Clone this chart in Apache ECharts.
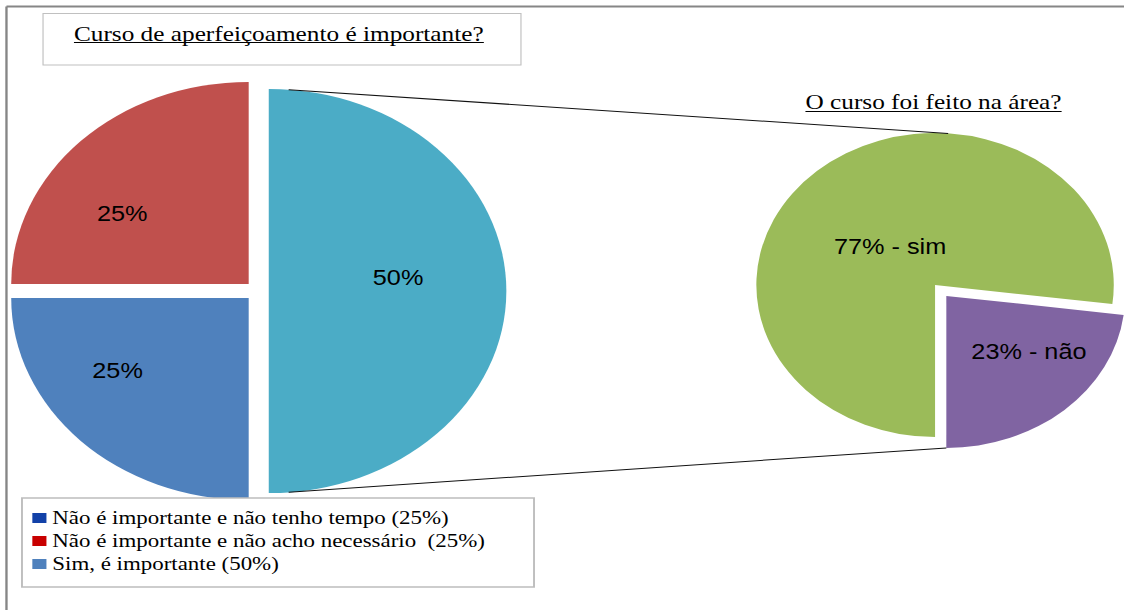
<!DOCTYPE html>
<html>
<head>
<meta charset="utf-8">
<script src="https://cdn.jsdelivr.net/npm/echarts@6/dist/echarts.min.js"></script>
<style>
  html, body { margin: 0; padding: 0; background: #fff; overflow: hidden; width: 1124px; height: 610px; }
  /* the drawing is laid out on a narrower canvas and widened to the page */
  #chart { width: 980px; height: 620px; transform: scaleX(1.175732); transform-origin: 0 0; }
</style>
</head>
<body>
<div id="chart"></div>
<script>
// Primary question: is a training course important?
const answerNames = ['Sim, é importante', 'Não é importante e não tenho tempo', 'Não é importante e não acho necessário'];
const answerValues = [50, 25, 25];
const answerColors = ['#4bacc6', '#4f81bd', '#c0504d'];

// Legend order and swatch colours
const legendNames = ['Não é importante e não tenho tempo', 'Não é importante e não acho necessário', 'Sim, é importante'];
const legendColors = ['#1241a8', '#c80000', '#4f81bd'];

// Breakdown of the "Sim" answers: was the course taken in the field?
const areaNames = ['sim', 'não'];
const areaValues = [77, 23];
const areaColors = ['#9bbb59', '#8064a2'];

const mainTitle = 'Curso de aperfeiçoamento é importante?';
const subTitle = 'O curso foi feito na área?';

// geometry of the two pies (px, in the unstretched layout)
const LEFT = { cx: 218.6, cy: 291, r: 202, off: 10 };
const RIGHT = { cx: 795.3, cy: 285, r: 152, off: 14.5 };

const SERIF = 'Liberation Serif';
const SANS = 'Liberation Sans';

// label nudges, per slice
const leftLabelShift = [[6, -13], [-38, -1], [-34, 3]];
const rightLabelShift = [[14, 21], [18, -3]];

function textWidth(str, font) {
  const c = document.createElement('canvas').getContext('2d');
  c.font = font;
  return c.measureText(str).width;
}

// series lines joining the split slice to the secondary pie
const deg = Math.PI / 180;
const leftTop = [LEFT.cx + LEFT.off + LEFT.r * Math.sin(4.8 * deg), LEFT.cy - LEFT.r * Math.cos(4.8 * deg)];
const leftBottom = [leftTop[0], LEFT.cy + LEFT.r * Math.cos(4.8 * deg)];
const rightTop = [RIGHT.cx + RIGHT.r * Math.sin(4.2 * deg), RIGHT.cy - RIGHT.r * Math.cos(4.2 * deg)];
const areaTotal = areaValues.reduce((a, b) => a + b, 0);
const notMid = (270 - 360 * areaValues[0] / areaTotal - 180 * areaValues[1] / areaTotal) * deg;
const notCenter = [RIGHT.cx + RIGHT.off * Math.cos(notMid), RIGHT.cy - RIGHT.off * Math.sin(notMid)];
const rightBottom = [notCenter[0], notCenter[1] + RIGHT.r];

const titleFont = '21.5px "Liberation Serif"';
const t1x = 62.9, t1y = 33.5;
const t1w = textWidth(mainTitle, titleFont);
const t2x = 794, t2y = 102;
const t2w = textWidth(subTitle, titleFont);

const chart = echarts.init(document.getElementById('chart'), null, { renderer: 'svg' });

chart.setOption({
  animation: false,
  backgroundColor: '#fff',
  legend: {
    orient: 'vertical',
    left: 27.5,
    top: 507,
    padding: 0,
    itemWidth: 12,
    itemHeight: 10,
    itemGap: 1,
    selectedMode: false,
    textStyle: { fontFamily: SERIF, fontSize: 19.5, color: '#000', lineHeight: 22 },
    formatter: name => {
      const v = answerValues[answerNames.indexOf(name)];
      return name + (name === legendNames[1] ? '  ' : ' ') + '(' + v + '%)';
    },
    data: legendNames.map((n, i) => ({ name: n, icon: 'rect', itemStyle: { color: legendColors[i] } }))
  },
  graphic: [
    // outer frame: only its top and left edges fall inside the page
    { type: 'line', z: 1, silent: true,
      shape: { x1: 5.5, y1: 6.5, x2: 980, y2: 6.5 },
      style: { stroke: '#868686', lineWidth: 2 } },
    { type: 'line', z: 1, silent: true,
      shape: { x1: 5.5, y1: 6.5, x2: 5.5, y2: 620 },
      style: { stroke: '#868686', lineWidth: 2 } },
    { type: 'rect', z: 1, silent: true,
      shape: { x: 36.6, y: 13.5, width: 406.5, height: 51.5 },
      style: { fill: 'none', stroke: '#c0c0c0', lineWidth: 1 } },
    { type: 'text', z: 5, silent: true,
      style: { text: mainTitle, x: t1x, y: t1y, font: titleFont, fill: '#000', textVerticalAlign: 'middle' } },
    { type: 'line', z: 5, silent: true,
      shape: { x1: t1x, y1: 42.5, x2: t1x + t1w, y2: 42.5 },
      style: { stroke: '#000', lineWidth: 1.2 } },
    { type: 'text', z: 5, silent: true,
      style: { text: subTitle, x: t2x, y: t2y, font: titleFont, fill: '#000', textAlign: 'center', textVerticalAlign: 'middle' } },
    { type: 'line', z: 5, silent: true,
      shape: { x1: t2x - t2w / 2, y1: 111.5, x2: t2x + t2w / 2, y2: 111.5 },
      style: { stroke: '#000', lineWidth: 1.2 } },
    { type: 'line', z: 3, silent: true,
      shape: { x1: leftTop[0], y1: leftTop[1], x2: rightTop[0], y2: rightTop[1] },
      style: { stroke: '#111', lineWidth: 1 } },
    { type: 'line', z: 3, silent: true,
      shape: { x1: leftBottom[0], y1: leftBottom[1], x2: rightBottom[0], y2: rightBottom[1] },
      style: { stroke: '#111', lineWidth: 1 } },
    { type: 'rect', z: 3, silent: true,
      shape: { x: 18.7, y: 498, width: 435.5, height: 89 },
      style: { fill: '#fff', stroke: '#bdbdbd', lineWidth: 1.6 } }
  ],
  series: [
    {
      type: 'pie',
      name: mainTitle,
      center: [LEFT.cx, LEFT.cy],
      radius: LEFT.r,
      startAngle: 90,
      clockwise: true,
      selectedMode: 'multiple',
      selectedOffset: LEFT.off,
      emphasis: { disabled: true },
      labelLine: { show: false },
      label: {
        show: true,
        position: 'inside',
        formatter: p => p.value + '%',
        fontFamily: SANS,
        fontSize: 21.5,
        color: '#000'
      },
      labelLayout: p => ({ dx: leftLabelShift[p.dataIndex][0], dy: leftLabelShift[p.dataIndex][1] }),
      data: answerNames.map((n, i) => ({
        name: n, value: answerValues[i], selected: true,
        itemStyle: { color: answerColors[i] }
      }))
    },
    {
      type: 'pie',
      name: subTitle,
      center: [RIGHT.cx, RIGHT.cy],
      radius: RIGHT.r,
      startAngle: 270,
      clockwise: true,
      selectedMode: 'single',
      selectedOffset: RIGHT.off,
      emphasis: { disabled: true },
      labelLine: { show: false },
      label: {
        show: true,
        position: 'inside',
        formatter: p => p.value + '% - ' + p.name,
        fontFamily: SANS,
        fontSize: 21.5,
        color: '#000'
      },
      labelLayout: p => ({ dx: rightLabelShift[p.dataIndex][0], dy: rightLabelShift[p.dataIndex][1] }),
      data: areaNames.map((n, i) => ({
        name: n, value: areaValues[i], selected: i === 1,
        itemStyle: { color: areaColors[i] }
      }))
    }
  ]
});
</script>
</body>
</html>
